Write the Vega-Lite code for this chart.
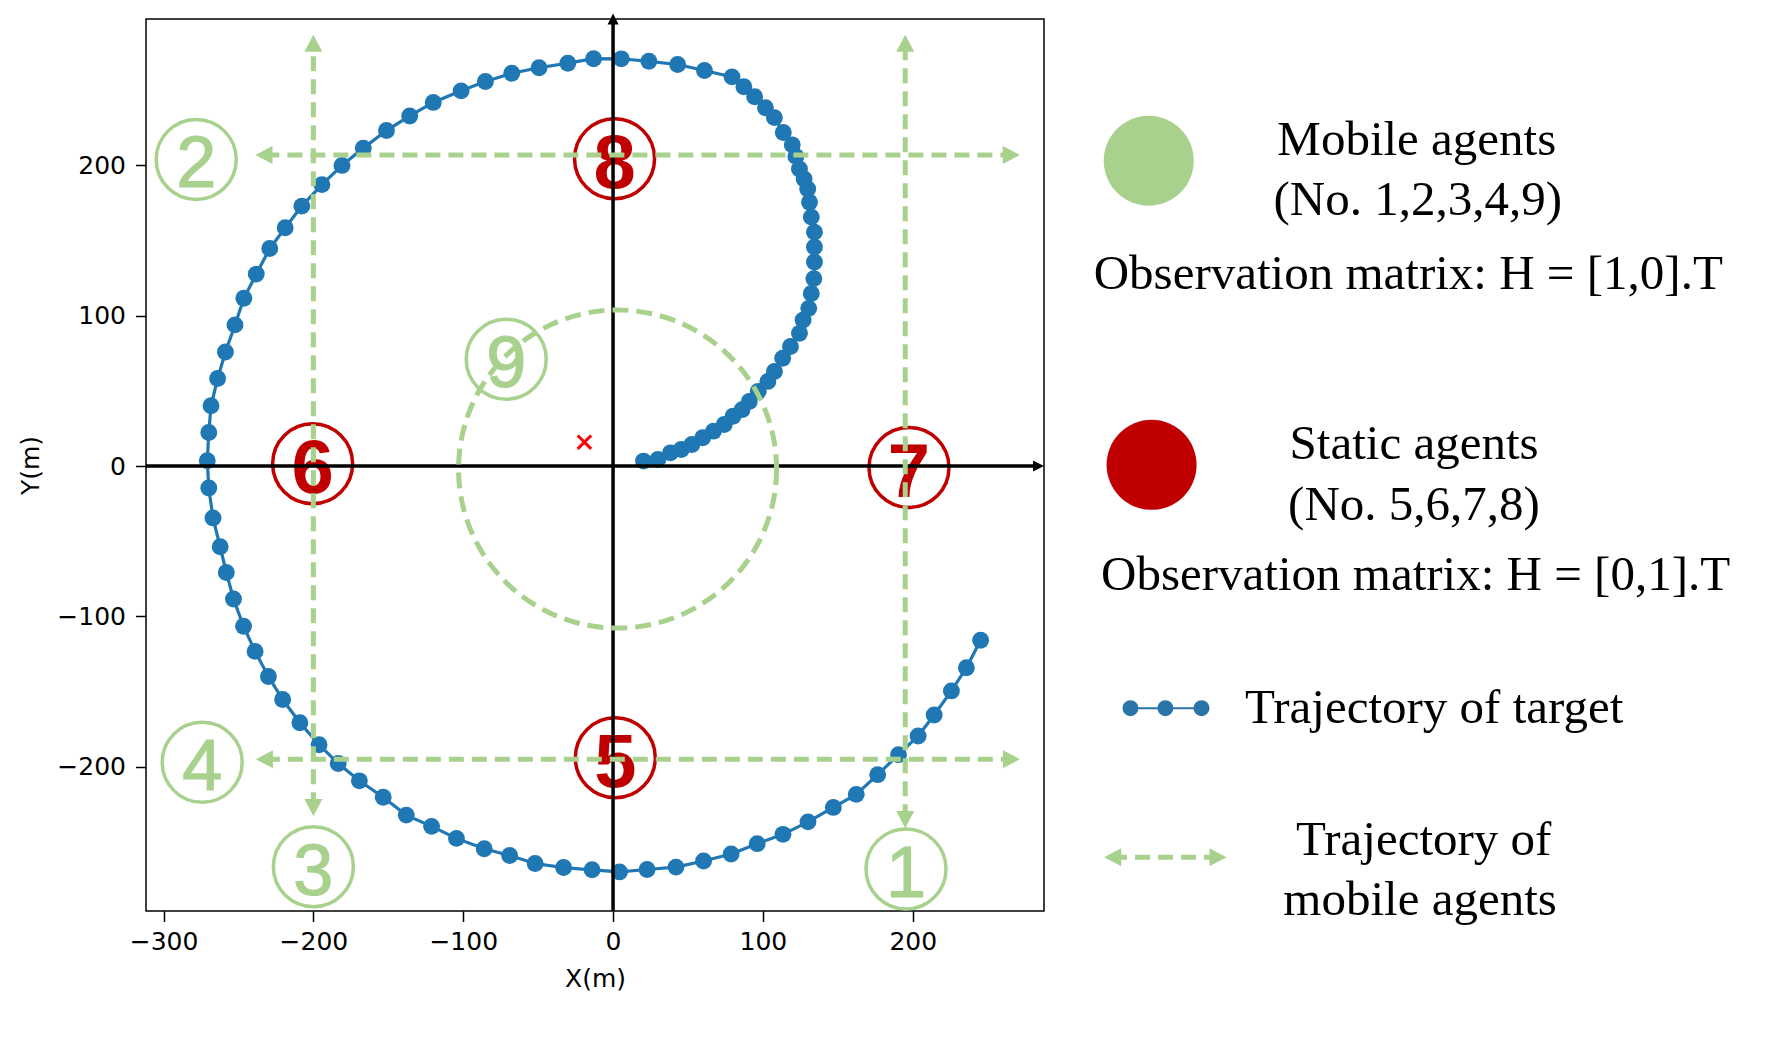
{
  "$schema": "https://vega.github.io/schema/vega-lite/v6.json",
  "width": 898,
  "height": 892,
  "autosize": {"type": "none"},
  "padding": {"left": 146, "top": 19, "right": 722, "bottom": 127},
  "background": "white",
  "config": {
    "view": {"stroke": "black", "strokeWidth": 1.5},
    "axis": {"grid": false, "domain": false, "tickColor": "black", "tickWidth": 1.5, "tickSize": 10.5,
      "labelFont": "DejaVu Sans", "labelFontSize": 25, "labelColor": "black",
      "titleFont": "DejaVu Sans", "titleFontSize": 25, "titleFontWeight": "normal", "titleColor": "black",
      "labelFlush": false, "labelOverlap": false}
  },
  "datasets": {
    "traj": [
      {"i":1,"x":20.3,"y":3.3},{"i":2,"x":29.9,"y":4.4},{"i":3,"x":38.3,"y":8.8},{"i":4,"x":45.5,"y":11.0},
      {"i":5,"x":52.6,"y":14.3},{"i":6,"x":59.8,"y":18.8},{"i":7,"x":67.0,"y":23.2},{"i":8,"x":74.2,"y":27.6},
      {"i":9,"x":80.1,"y":33.1},{"i":10,"x":86.1,"y":37.5},{"i":11,"x":90.9,"y":43.0},{"i":12,"x":96.9,"y":49.7},
      {"i":13,"x":103.3,"y":56.3},{"i":14,"x":107.7,"y":62.9},{"i":15,"x":113.2,"y":71.7},{"i":16,"x":118.4,"y":79.5},
      {"i":17,"x":124.4,"y":88.3},{"i":18,"x":126.8,"y":97.1},{"i":19,"x":130.6,"y":104.9},{"i":20,"x":132.3,"y":114.8},
      {"i":21,"x":134.0,"y":124.7},{"i":22,"x":134.4,"y":135.8},{"i":23,"x":134.4,"y":145.7},{"i":24,"x":134.4,"y":155.6},
      {"i":25,"x":132.3,"y":165.6},{"i":26,"x":131.1,"y":175.5},{"i":27,"x":129.9,"y":184.3},{"i":28,"x":127.5,"y":191.0},
      {"i":29,"x":124.4,"y":197.6},{"i":30,"x":122.0,"y":206.0},{"i":31,"x":119.6,"y":213.7},{"i":32,"x":113.6,"y":221.9},
      {"i":33,"x":107.7,"y":231.8},{"i":34,"x":101.7,"y":238.4},{"i":35,"x":94.5,"y":245.7},{"i":36,"x":87.3,"y":252.3},
      {"i":37,"x":79.4,"y":258.9},{"i":38,"x":61.0,"y":263.1},{"i":39,"x":43.1,"y":267.1},{"i":40,"x":23.9,"y":269.3},
      {"i":41,"x":5.5,"y":270.9},{"i":42,"x":-13.0,"y":271.0},{"i":43,"x":-30.2,"y":268.0},{"i":44,"x":-49.4,"y":265.0},
      {"i":45,"x":-67.6,"y":261.3},{"i":46,"x":-85.2,"y":255.8},{"i":47,"x":-101.4,"y":249.6},{"i":48,"x":-120.0,"y":241.9},
      {"i":49,"x":-135.7,"y":232.9},{"i":50,"x":-151.2,"y":223.2},{"i":51,"x":-166.7,"y":211.5},{"i":52,"x":-180.9,"y":200.0},
      {"i":53,"x":-194.3,"y":187.2},{"i":54,"x":-207.7,"y":172.9},{"i":55,"x":-218.8,"y":158.5},{"i":56,"x":-229.1,"y":144.7},
      {"i":57,"x":-238.1,"y":127.7},{"i":58,"x":-246.4,"y":111.6},{"i":59,"x":-252.3,"y":93.9},{"i":60,"x":-258.7,"y":75.9},
      {"i":61,"x":-263.9,"y":58.2},{"i":62,"x":-268.3,"y":40.1},{"i":63,"x":-269.8,"y":22.3},{"i":64,"x":-270.8,"y":3.5},
      {"i":65,"x":-269.8,"y":-14.6},{"i":66,"x":-267.0,"y":-34.5},{"i":67,"x":-262.2,"y":-53.7},{"i":68,"x":-258.1,"y":-70.8},
      {"i":69,"x":-253.3,"y":-88.4},{"i":70,"x":-246.6,"y":-106.6},{"i":71,"x":-238.9,"y":-123.3},{"i":72,"x":-230.0,"y":-140.0},
      {"i":73,"x":-220.5,"y":-155.3},{"i":74,"x":-209.0,"y":-170.8},{"i":75,"x":-196.2,"y":-185.4},{"i":76,"x":-183.4,"y":-197.9},
      {"i":77,"x":-169.3,"y":-209.4},{"i":78,"x":-153.4,"y":-220.3},{"i":79,"x":-138.0,"y":-232.2},{"i":80,"x":-121.1,"y":-239.7},
      {"i":81,"x":-104.5,"y":-247.7},{"i":82,"x":-86.0,"y":-254.6},{"i":83,"x":-69.0,"y":-259.1},{"i":84,"x":-52.0,"y":-264.4},
      {"i":85,"x":-33.0,"y":-267.1},{"i":86,"x":-14.0,"y":-268.6},{"i":87,"x":4.3,"y":-270.0},{"i":88,"x":22.7,"y":-268.4},
      {"i":89,"x":42.0,"y":-266.8},{"i":90,"x":60.4,"y":-262.7},{"i":91,"x":78.8,"y":-258.1},{"i":92,"x":96.2,"y":-251.2},
      {"i":93,"x":113.4,"y":-245.0},{"i":94,"x":130.1,"y":-236.7},{"i":95,"x":147.0,"y":-227.1},{"i":96,"x":162.3,"y":-218.4},
      {"i":97,"x":176.6,"y":-205.3},{"i":98,"x":190.5,"y":-192.0},{"i":99,"x":203.6,"y":-179.6},{"i":100,"x":214.3,"y":-165.6},
      {"i":101,"x":225.8,"y":-149.6},{"i":102,"x":235.8,"y":-134.2},{"i":103,"x":245.3,"y":-115.9}
    ],
    "cross": [{"x":-19.1,"y":15.9}],
    "ring": [{"x":3,"y":-2}],
    "agents": [
      {"x":195.5,"y":-268,"n":"1","g":"mobile"},
      {"x":-278.2,"y":204,"n":"2","g":"mobile"},
      {"x":-200,"y":-266.5,"n":"3","g":"mobile"},
      {"x":-274.2,"y":-197.1,"n":"4","g":"mobile"},
      {"x":1.5,"y":-194,"n":"5","g":"static"},
      {"x":-200.5,"y":1.5,"n":"6","g":"static"},
      {"x":197.5,"y":-1,"n":"7","g":"static"},
      {"x":1,"y":204.5,"n":"8","g":"static"},
      {"x":-71.3,"y":71,"n":"9","g":"mobile"}
    ],
    "axes": [
      {"x":0,"y":-296,"x2":0,"y2":295},
      {"x":-311.7,"y":0,"x2":282,"y2":0}
    ],
    "axArrows": [
      {"x":0,"y":301,"dir":"up"},
      {"x":287.6,"y":0,"dir":"right"}
    ],
    "paths": [
      {"x":-200,"y":-227,"x2":-200,"y2":281},
      {"x":195,"y":-235,"x2":195,"y2":281},
      {"x":-232.7,"y":207,"x2":265.5,"y2":207},
      {"x":-232.4,"y":-195,"x2":265.6,"y2":-195},
      {"x":333,"y":-260.3,"x2":404,"y2":-260.3}
    ],
    "pathArrows": [
      {"x":-200,"y":287,"dir":"up"},
      {"x":-200,"y":-232.9,"dir":"down"},
      {"x":195,"y":287,"dir":"up"},
      {"x":195,"y":-240.9,"dir":"down"},
      {"x":-238.7,"y":207,"dir":"left"},
      {"x":271.5,"y":207,"dir":"right"},
      {"x":-238.4,"y":-195,"dir":"left"},
      {"x":271.6,"y":-195,"dir":"right"},
      {"x":327.7,"y":-260.3,"dir":"left"},
      {"x":409.4,"y":-260.3,"dir":"right"}
    ],
    "legendCircles": [
      {"x":357.5,"y":203.1,"g":"mobile"},
      {"x":359.4,"y":0.8,"g":"static"}
    ],
    "legendDots": [
      {"x":345.3,"y":-161.1},{"x":368.6,"y":-161.1},{"x":392.7,"y":-161.1}
    ],
    "legendText": [
      {"x":536.4,"y":207.1,"t":"Mobile agents"},
      {"x":537.0,"y":167.2,"t":"(No. 1,2,3,4,9)"},
      {"x":530.7,"y":117.7,"t":"Observation matrix: H = [1,0].T"},
      {"x":534.6,"y":4.6,"t":"Static agents"},
      {"x":534.5,"y":-35.8,"t":"(No. 5,6,7,8)"},
      {"x":535.6,"y":-82.4,"t":"Observation matrix: H = [0,1].T"},
      {"x":548.0,"y":-171.1,"t":"Trajectory of target"},
      {"x":541.0,"y":-258.8,"t":"Trajectory of"},
      {"x":538.6,"y":-298.7,"t":"mobile agents"}
    ]
  },
  "encoding": {
    "x": {"field": "x", "type": "quantitative",
      "scale": {"domain": [-311.7, 287.6], "nice": false, "zero": false},
      "axis": {"title": "X(m)", "values": [-300, -200, -100, 0, 100, 200], "labelPadding": 8, "titlePadding": 12}},
    "y": {"field": "y", "type": "quantitative",
      "scale": {"domain": [-296, 297.4], "nice": false, "zero": false},
      "axis": {"title": "Y(m)", "values": [-200, -100, 0, 100, 200], "labelPadding": 10, "titlePadding": 13}}
  },
  "layer": [
    {"data": {"name": "traj"}, "mark": {"type": "line", "color": "#1f77b4", "strokeWidth": 3.2},
      "encoding": {"order": {"field": "i", "type": "quantitative"}}},
    {"data": {"name": "traj"}, "mark": {"type": "point", "shape": "circle", "filled": true, "size": 285, "color": "#1f77b4", "opacity": 1, "strokeWidth": 0}},
    {"data": {"name": "cross"}, "mark": {"type": "point", "shape": "M-1,-1L1,1M1,-1L-1,1", "filled": false, "size": 180, "color": "#ff0000", "strokeWidth": 3, "opacity": 1}},
    {"data": {"name": "agents"}, "mark": {"type": "point", "shape": "circle", "filled": false, "size": 6400, "strokeWidth": 3.5, "opacity": 1},
      "encoding": {"color": {"field": "g", "type": "nominal", "scale": {"domain": ["mobile", "static"], "range": ["#A9D18E", "#C00000"]}, "legend": null}}},
    {"data": {"name": "agents"}, "transform": [{"filter": "datum.g == 'mobile'"}],
      "mark": {"type": "text", "font": "Liberation Sans", "fontSize": 72, "fontWeight": "normal", "align": "center", "baseline": "middle", "dy": 6, "color": "#A9D18E", "stroke": "#A9D18E", "strokeWidth": 1.2},
      "encoding": {"text": {"field": "n"}}},
    {"data": {"name": "agents"}, "transform": [{"filter": "datum.g == 'static'"}],
      "mark": {"type": "text", "font": "Liberation Sans", "fontSize": 76, "fontWeight": "bold", "align": "center", "baseline": "middle", "dy": 6, "color": "#C00000"},
      "encoding": {"text": {"field": "n"}}},
    {"data": {"name": "axes"}, "mark": {"type": "rule", "color": "black", "strokeWidth": 3.5},
      "encoding": {"x2": {"field": "x2"}, "y2": {"field": "y2"}}},
    {"data": {"name": "axArrows"}, "transform": [{"filter": "datum.dir == 'up'"}],
      "mark": {"type": "point", "shape": "M0,0L-1,2L1,2Z", "filled": true, "size": 121, "color": "black", "opacity": 1, "strokeWidth": 0}},
    {"data": {"name": "axArrows"}, "transform": [{"filter": "datum.dir == 'right'"}],
      "mark": {"type": "point", "shape": "M0,0L-2,-1L-2,1Z", "filled": true, "size": 121, "color": "black", "opacity": 1, "strokeWidth": 0}},
    {"data": {"name": "ring"}, "mark": {"type": "point", "shape": "circle", "filled": false, "size": 101124, "color": "#A9D18E", "strokeWidth": 5, "strokeDash": [16, 8], "opacity": 1}},
    {"data": {"name": "paths"}, "mark": {"type": "rule", "color": "#A9D18E", "strokeWidth": 5, "strokeDash": [15, 8]},
      "encoding": {"x2": {"field": "x2"}, "y2": {"field": "y2"}}},
    {"data": {"name": "pathArrows"}, "transform": [{"filter": "datum.dir == 'up'"}],
      "mark": {"type": "point", "shape": "M0,0L-1,1.9L1,1.9Z", "filled": true, "size": 324, "color": "#A9D18E", "opacity": 1, "strokeWidth": 0}},
    {"data": {"name": "pathArrows"}, "transform": [{"filter": "datum.dir == 'down'"}],
      "mark": {"type": "point", "shape": "M0,0L-1,-1.9L1,-1.9Z", "filled": true, "size": 324, "color": "#A9D18E", "opacity": 1, "strokeWidth": 0}},
    {"data": {"name": "pathArrows"}, "transform": [{"filter": "datum.dir == 'left'"}],
      "mark": {"type": "point", "shape": "M0,0L1.9,-1L1.9,1Z", "filled": true, "size": 324, "color": "#A9D18E", "opacity": 1, "strokeWidth": 0}},
    {"data": {"name": "pathArrows"}, "transform": [{"filter": "datum.dir == 'right'"}],
      "mark": {"type": "point", "shape": "M0,0L-1.9,-1L-1.9,1Z", "filled": true, "size": 324, "color": "#A9D18E", "opacity": 1, "strokeWidth": 0}},
    {"data": {"name": "legendCircles"}, "mark": {"type": "point", "shape": "circle", "filled": true, "size": 8100, "opacity": 1, "strokeWidth": 0},
      "encoding": {"color": {"field": "g", "type": "nominal", "scale": {"domain": ["mobile", "static"], "range": ["#A9D18E", "#C00000"]}, "legend": null}}},
    {"data": {"name": "legendDots"}, "mark": {"type": "line", "color": "#2a75a8", "strokeWidth": 2},
      "encoding": {"order": {"field": "x", "type": "quantitative"}}},
    {"data": {"name": "legendDots"}, "mark": {"type": "point", "shape": "circle", "filled": true, "size": 256, "color": "#2a75a8", "opacity": 1, "strokeWidth": 0}},
    {"data": {"name": "legendText"}, "mark": {"type": "text", "font": "Liberation Serif", "fontSize": 49, "align": "center", "baseline": "alphabetic", "color": "black"},
      "encoding": {"text": {"field": "t"}}}
  ]
}
